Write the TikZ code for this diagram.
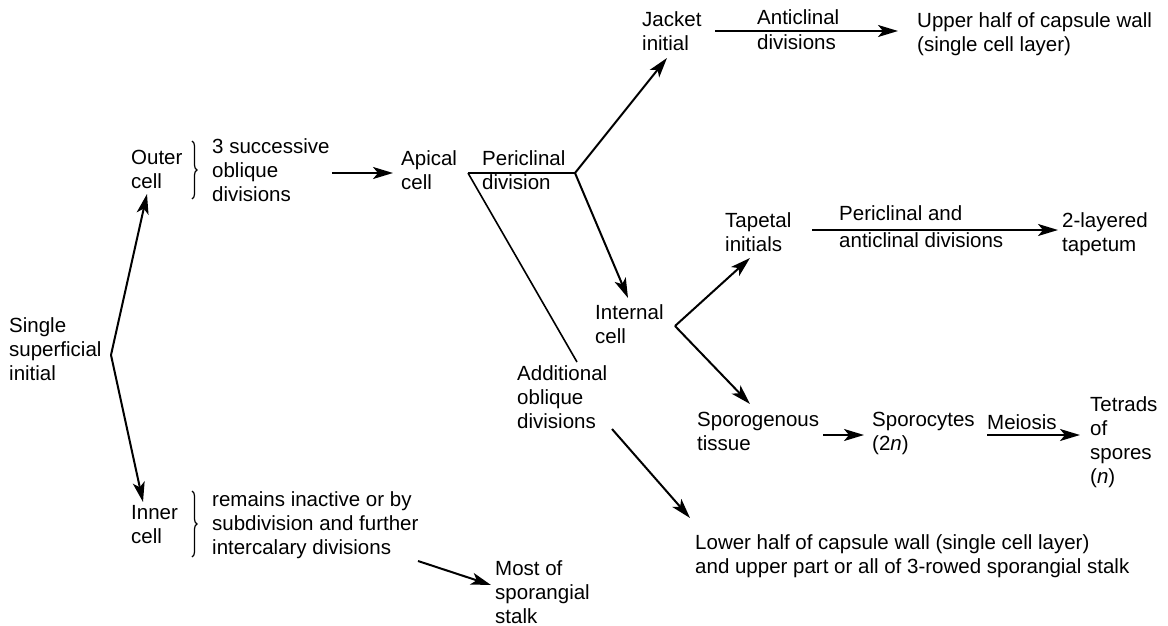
\documentclass[tikz,border=0pt]{standalone}
\usepackage{fontspec}
\setmainfont{Liberation Sans}
\usetikzlibrary{arrows.meta,decorations.pathreplacing}
\begin{document}
\begin{tikzpicture}[x=1pt,y=-1pt,
  txt/.style={inner sep=0pt, anchor=north west, align=left,
    font=\fontsize{20.5}{24}\selectfont, execute at begin node=\strut},
  arr/.style={line width=2pt, -{Stealth[length=20pt,width=12pt,inset=5pt]}},
  ln/.style={line width=1.6pt},
  brc/.style={line width=1.2pt, decorate, decoration={brace, amplitude=5pt}}]
\useasboundingbox (0,0) rectangle (1168,626);

% text nodes
\node[txt] (single) at (9,317) {Single\\superficial\\initial};
\node[txt] (outer) at (131,150) {Outer\\cell};
\node[txt] (succ) at (212,138) {3 successive\\oblique\\divisions};
\node[txt] (apical) at (401,150) {Apical\\cell};
\node[txt] (peri) at (482,150) {Periclinal\\division};
\node[txt] (jacket) at (642,11) {Jacket\\initial};
\node[txt] (antiL) at (757,9) {Anticlinal\\[1pt]divisions};
\node[txt] (upper) at (917,12) {Upper half of capsule wall\\(single cell layer)};
\node[txt] (tapetal) at (725,212) {Tapetal\\initials};
\node[txt] (periL) at (839,205) {Periclinal and\\[3pt]anticlinal divisions};
\node[txt] (layered) at (1062,212) {2-layered\\tapetum};
\node[txt] (internal) at (595,304) {Internal\\cell};
\node[txt] (additional) at (517,365) {Additional\\oblique\\divisions};
\node[txt] (sporog) at (697,412) {Sporogenous\\tissue};
\node[txt] (sporoc) at (872,412) {Sporocytes\\(2\textit{n})};
\node[txt] (meiosis) at (987,412) {Meiosis};
\node[txt] (tetrads) at (1090,396) {Tetrads\\of\\spores\\(\textit{n})};
\node[txt] (inner) at (131,505) {Inner\\cell};
\node[txt] (remains) at (212,491) {remains inactive or by\\subdivision and further\\intercalary divisions};
\node[txt] (most) at (495,560) {Most of\\sporangial\\stalk};
\node[txt] (lower) at (695,534) {Lower half of capsule wall (single cell layer)\\and upper part or all of 3-rowed sporangial stalk};

% coordinates
\coordinate (v1) at (111,355);
\coordinate (tOuter) at (147,194);
\coordinate (tInner) at (143,502);
\coordinate (pA) at (468,173);
\coordinate (pB) at (575,173);
\coordinate (tJacket) at (667,58);
\coordinate (tInternal) at (628,298);
\coordinate (eAdd) at (577,362);
\coordinate (v2) at (675,326);
\coordinate (tTapetal) at (750,258);
\coordinate (tSporog) at (750,404);

% braces
\draw[brc] (192,141) -- (192,199);
\draw[brc] (192,491) -- (192,557);

% connectors
\draw[arr] (v1) -- (tOuter);
\draw[arr] (v1) -- (tInner);
\draw[arr] (succ.east |- 0,173) ++(2,0) -- (393,173);
\draw[ln] (pA) -- (pB);
\draw[arr] (pB) -- (tJacket);
\draw[arr] (pB) -- (tInternal);
\draw[ln] (pA) -- (eAdd);
\draw[arr] (715,31) -- (898,31);
\draw[arr] (v2) -- (tTapetal);
\draw[arr] (v2) -- (tSporog);
\draw[arr] (812,230) -- (1058,230);
\draw[arr] (823,435) -- (864,435);
\draw[arr] (987,435) -- (1080,435);
\draw[arr] (612,429) -- (690,518);
\draw[arr] (418,561) -- (491,585);
\end{tikzpicture}
\end{document}
